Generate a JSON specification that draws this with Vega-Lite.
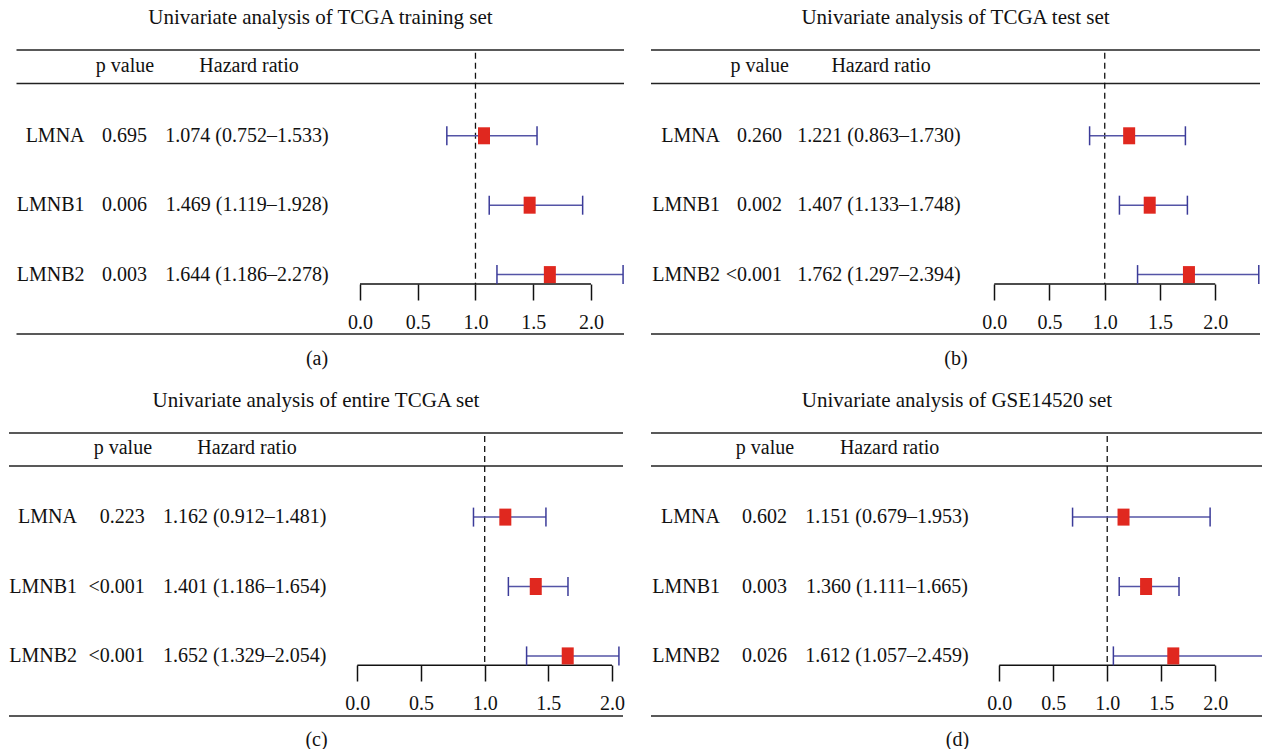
{
  "$schema": "https://vega.github.io/schema/vega-lite/v6.json",
  "background": "white",
  "padding": {"left": 8, "top": 7, "right": 0, "bottom": 0},
  "datasets": {
    "hr": [
      {"panel": "a", "gene": "LMNA", "p": "0.695", "hr": 1.074, "lo": 0.752, "hi": 1.533},
      {"panel": "a", "gene": "LMNB1", "p": "0.006", "hr": 1.469, "lo": 1.119, "hi": 1.928},
      {"panel": "a", "gene": "LMNB2", "p": "0.003", "hr": 1.644, "lo": 1.186, "hi": 2.278},
      {"panel": "b", "gene": "LMNA", "p": "0.260", "hr": 1.221, "lo": 0.863, "hi": 1.730},
      {"panel": "b", "gene": "LMNB1", "p": "0.002", "hr": 1.407, "lo": 1.133, "hi": 1.748},
      {"panel": "b", "gene": "LMNB2", "p": "<0.001", "hr": 1.762, "lo": 1.297, "hi": 2.394},
      {"panel": "c", "gene": "LMNA", "p": "0.223", "hr": 1.162, "lo": 0.912, "hi": 1.481},
      {"panel": "c", "gene": "LMNB1", "p": "<0.001", "hr": 1.401, "lo": 1.186, "hi": 1.654},
      {"panel": "c", "gene": "LMNB2", "p": "<0.001", "hr": 1.652, "lo": 1.329, "hi": 2.054},
      {"panel": "d", "gene": "LMNA", "p": "0.602", "hr": 1.151, "lo": 0.679, "hi": 1.953},
      {"panel": "d", "gene": "LMNB1", "p": "0.003", "hr": 1.360, "lo": 1.111, "hi": 1.665},
      {"panel": "d", "gene": "LMNB2", "p": "0.026", "hr": 1.612, "lo": 1.057, "hi": 2.459}
    ]
  },
  "columns": 2,
  "bounds": "flush",
  "spacing": {"row": 99, "column": 27},
  "concat": [
    {
      "title": {"text": "Univariate analysis of TCGA training set", "dx": 4},
      "width": 615,
      "height": 284,
      "data": {"name": "hr"},
      "transform": [
        {"filter": "datum.panel == 'a'"},
        {"window": [{"op": "row_number", "as": "row"}]},
        {"calculate": "format(datum.hr, '.3f') + ' (' + format(datum.lo, '.3f') + '–' + format(datum.hi, '.3f') + ')'", "as": "hrtext"}
      ],
      "layer": [
        {"data": {"values": [{}]}, "mark": {"type": "rule", "color": "#222", "strokeWidth": 1.5},
         "encoding": {"x": {"datum": -2.974, "type": "quantitative"}, "x2": {"datum": 2.286}, "y": {"datum": -0.236, "type": "quantitative", "axis": null}}},
        {"data": {"values": [{}]}, "mark": {"type": "rule", "color": "#222", "strokeWidth": 1.5},
         "encoding": {"x": {"datum": -2.974, "type": "quantitative"}, "x2": {"datum": 2.286}, "y": {"datum": 0.245, "type": "quantitative", "axis": null}}},
        {"data": {"values": [{}]}, "mark": {"type": "rule", "color": "#222", "strokeWidth": 1.5},
         "encoding": {"x": {"datum": -2.974, "type": "quantitative"}, "x2": {"datum": 2.286}, "y": {"datum": 3.856, "type": "quantitative", "axis": null}}},
        {"data": {"values": [{}]}, "mark": {"type": "rule", "color": "#111", "strokeWidth": 1.3, "strokeDash": [6, 4]},
         "encoding": {"x": {"datum": 1, "type": "quantitative"}, "y": {"datum": -0.197, "type": "quantitative", "axis": null}, "y2": {"datum": 3.135}}},
        {"data": {"values": [{}]}, "mark": {"type": "rule", "color": "#111", "strokeWidth": 1.5},
         "encoding": {"x": {"datum": 0, "type": "quantitative"}, "x2": {"datum": 2}, "y": {"datum": 3.135, "type": "quantitative", "axis": null}}},
        {"mark": {"type": "rule", "color": "#5454a6", "strokeWidth": 1.5},
         "encoding": {
           "x": {"field": "lo", "type": "quantitative", "scale": {"domain": [-3.039, 2.286], "nice": false, "zero": false},
                 "axis": {"values": [0, 0.5, 1, 1.5, 2], "format": ".1f", "offset": -50, "title": "(a)"}},
           "x2": {"field": "hi"},
           "y": {"field": "row", "type": "quantitative", "scale": {"domain": [-0.236, 3.856], "reverse": true, "nice": false, "zero": false}, "axis": null}}},
        {"mark": {"type": "tick", "orient": "vertical", "size": 19, "thickness": 1.5, "color": "#3b3b99", "opacity": 1},
         "encoding": {"x": {"field": "lo", "type": "quantitative"}, "y": {"field": "row", "type": "quantitative", "axis": null}}},
        {"mark": {"type": "tick", "orient": "vertical", "size": 19, "thickness": 1.5, "color": "#3b3b99", "opacity": 1},
         "encoding": {"x": {"field": "hi", "type": "quantitative"}, "y": {"field": "row", "type": "quantitative", "axis": null}}},
        {"mark": {"type": "point", "shape": "M-0.706,-1H0.706V1H-0.706Z", "size": 289, "filled": true, "color": "#e0281f", "opacity": 1},
         "encoding": {"x": {"field": "hr", "type": "quantitative"}, "y": {"field": "row", "type": "quantitative", "axis": null}}},
        {"mark": {"type": "text", "align": "right", "baseline": "middle"},
         "encoding": {"x": {"datum": -2.385, "type": "quantitative"}, "y": {"field": "row", "type": "quantitative", "axis": null}, "text": {"field": "gene"}}},
        {"mark": {"type": "text", "align": "right", "baseline": "middle"},
         "encoding": {"x": {"datum": -1.844, "type": "quantitative"}, "y": {"field": "row", "type": "quantitative", "axis": null}, "text": {"field": "p"}}},
        {"mark": {"type": "text", "align": "center", "baseline": "middle"},
         "encoding": {"x": {"datum": -0.978, "type": "quantitative"}, "y": {"field": "row", "type": "quantitative", "axis": null}, "text": {"field": "hrtext"}}},
        {"data": {"values": [{}]}, "mark": {"type": "text", "align": "center", "baseline": "middle"},
         "encoding": {"x": {"datum": -2.035, "type": "quantitative"}, "y": {"datum": 0, "type": "quantitative", "axis": null}, "text": {"value": "p value"}}},
        {"data": {"values": [{}]}, "mark": {"type": "text", "align": "center", "baseline": "middle"},
         "encoding": {"x": {"datum": -0.961, "type": "quantitative"}, "y": {"datum": 0, "type": "quantitative", "axis": null}, "text": {"value": "Hazard ratio"}}}
      ]
    },
    {
      "title": {"text": "Univariate analysis of TCGA test set"},
      "width": 609,
      "height": 284,
      "data": {"name": "hr"},
      "transform": [
        {"filter": "datum.panel == 'b'"},
        {"window": [{"op": "row_number", "as": "row"}]},
        {"calculate": "format(datum.hr, '.3f') + ' (' + format(datum.lo, '.3f') + '–' + format(datum.hi, '.3f') + ')'", "as": "hrtext"}
      ],
      "layer": [
        {"data": {"values": [{}]}, "mark": {"type": "rule", "color": "#222", "strokeWidth": 1.5},
         "encoding": {"y": {"datum": -0.236, "type": "quantitative", "axis": null}}},
        {"data": {"values": [{}]}, "mark": {"type": "rule", "color": "#222", "strokeWidth": 1.5},
         "encoding": {"y": {"datum": 0.245, "type": "quantitative", "axis": null}}},
        {"data": {"values": [{}]}, "mark": {"type": "rule", "color": "#222", "strokeWidth": 1.5},
         "encoding": {"y": {"datum": 3.856, "type": "quantitative", "axis": null}}},
        {"data": {"values": [{}]}, "mark": {"type": "rule", "color": "#111", "strokeWidth": 1.3, "strokeDash": [6, 4]},
         "encoding": {"x": {"datum": 1, "type": "quantitative"}, "y": {"datum": -0.197, "type": "quantitative", "axis": null}, "y2": {"datum": 3.135}}},
        {"data": {"values": [{}]}, "mark": {"type": "rule", "color": "#111", "strokeWidth": 1.5},
         "encoding": {"x": {"datum": 0, "type": "quantitative"}, "x2": {"datum": 2}, "y": {"datum": 3.135, "type": "quantitative", "axis": null}}},
        {"mark": {"type": "rule", "color": "#5454a6", "strokeWidth": 1.5},
         "encoding": {
           "x": {"field": "lo", "type": "quantitative", "scale": {"domain": [-3.106, 2.405], "nice": false, "zero": false},
                 "axis": {"values": [0, 0.5, 1, 1.5, 2], "format": ".1f", "offset": -50, "title": "(b)"}},
           "x2": {"field": "hi"},
           "y": {"field": "row", "type": "quantitative", "scale": {"domain": [-0.236, 3.856], "reverse": true, "nice": false, "zero": false}, "axis": null}}},
        {"mark": {"type": "tick", "orient": "vertical", "size": 19, "thickness": 1.5, "color": "#3b3b99", "opacity": 1},
         "encoding": {"x": {"field": "lo", "type": "quantitative"}, "y": {"field": "row", "type": "quantitative", "axis": null}}},
        {"mark": {"type": "tick", "orient": "vertical", "size": 19, "thickness": 1.5, "color": "#3b3b99", "opacity": 1},
         "encoding": {"x": {"field": "hi", "type": "quantitative"}, "y": {"field": "row", "type": "quantitative", "axis": null}}},
        {"mark": {"type": "point", "shape": "M-0.706,-1H0.706V1H-0.706Z", "size": 289, "filled": true, "color": "#e0281f", "opacity": 1},
         "encoding": {"x": {"field": "hr", "type": "quantitative"}, "y": {"field": "row", "type": "quantitative", "axis": null}}},
        {"mark": {"type": "text", "align": "right", "baseline": "middle"},
         "encoding": {"x": {"datum": -2.481, "type": "quantitative"}, "y": {"field": "row", "type": "quantitative", "axis": null}, "text": {"field": "gene"}}},
        {"mark": {"type": "text", "align": "right", "baseline": "middle"},
         "encoding": {"x": {"datum": -1.920, "type": "quantitative"}, "y": {"field": "row", "type": "quantitative", "axis": null}, "text": {"field": "p"}}},
        {"mark": {"type": "text", "align": "center", "baseline": "middle"},
         "encoding": {"x": {"datum": -1.043, "type": "quantitative"}, "y": {"field": "row", "type": "quantitative", "axis": null}, "text": {"field": "hrtext"}}},
        {"data": {"values": [{}]}, "mark": {"type": "text", "align": "center", "baseline": "middle"},
         "encoding": {"x": {"datum": -2.123, "type": "quantitative"}, "y": {"datum": 0, "type": "quantitative", "axis": null}, "text": {"value": "p value"}}},
        {"data": {"values": [{}]}, "mark": {"type": "text", "align": "center", "baseline": "middle"},
         "encoding": {"x": {"datum": -1.024, "type": "quantitative"}, "y": {"datum": 0, "type": "quantitative", "axis": null}, "text": {"value": "Hazard ratio"}}}
      ]
    },
    {
      "title": {"text": "Univariate analysis of entire TCGA set"},
      "width": 614,
      "height": 283,
      "data": {"name": "hr"},
      "transform": [
        {"filter": "datum.panel == 'c'"},
        {"window": [{"op": "row_number", "as": "row"}]},
        {"calculate": "format(datum.hr, '.3f') + ' (' + format(datum.lo, '.3f') + '–' + format(datum.hi, '.3f') + ')'", "as": "hrtext"}
      ],
      "layer": [
        {"data": {"values": [{}]}, "mark": {"type": "rule", "color": "#222", "strokeWidth": 1.5},
         "encoding": {"y": {"datum": -0.212, "type": "quantitative", "axis": null}}},
        {"data": {"values": [{}]}, "mark": {"type": "rule", "color": "#222", "strokeWidth": 1.5},
         "encoding": {"y": {"datum": 0.264, "type": "quantitative", "axis": null}}},
        {"data": {"values": [{}]}, "mark": {"type": "rule", "color": "#222", "strokeWidth": 1.5},
         "encoding": {"y": {"datum": 3.866, "type": "quantitative", "axis": null}}},
        {"data": {"values": [{}]}, "mark": {"type": "rule", "color": "#111", "strokeWidth": 1.3, "strokeDash": [6, 4]},
         "encoding": {"x": {"datum": 1, "type": "quantitative"}, "y": {"datum": -0.169, "type": "quantitative", "axis": null}, "y2": {"datum": 3.135}}},
        {"data": {"values": [{}]}, "mark": {"type": "rule", "color": "#111", "strokeWidth": 1.5},
         "encoding": {"x": {"datum": 0, "type": "quantitative"}, "x2": {"datum": 2}, "y": {"datum": 3.135, "type": "quantitative", "axis": null}}},
        {"mark": {"type": "rule", "color": "#5454a6", "strokeWidth": 1.5},
         "encoding": {
           "x": {"field": "lo", "type": "quantitative", "scale": {"domain": [-2.735, 2.086], "nice": false, "zero": false},
                 "axis": {"values": [0, 0.5, 1, 1.5, 2], "format": ".1f", "offset": -51, "title": "(c)"}},
           "x2": {"field": "hi"},
           "y": {"field": "row", "type": "quantitative", "scale": {"domain": [-0.212, 3.866], "reverse": true, "nice": false, "zero": false}, "axis": null}}},
        {"mark": {"type": "tick", "orient": "vertical", "size": 19, "thickness": 1.5, "color": "#3b3b99", "opacity": 1},
         "encoding": {"x": {"field": "lo", "type": "quantitative"}, "y": {"field": "row", "type": "quantitative", "axis": null}}},
        {"mark": {"type": "tick", "orient": "vertical", "size": 19, "thickness": 1.5, "color": "#3b3b99", "opacity": 1},
         "encoding": {"x": {"field": "hi", "type": "quantitative"}, "y": {"field": "row", "type": "quantitative", "axis": null}}},
        {"mark": {"type": "point", "shape": "M-0.706,-1H0.706V1H-0.706Z", "size": 289, "filled": true, "color": "#e0281f", "opacity": 1},
         "encoding": {"x": {"field": "hr", "type": "quantitative"}, "y": {"field": "row", "type": "quantitative", "axis": null}}},
        {"mark": {"type": "text", "align": "right", "baseline": "middle"},
         "encoding": {"x": {"datum": -2.201, "type": "quantitative"}, "y": {"field": "row", "type": "quantitative", "axis": null}, "text": {"field": "gene"}}},
        {"mark": {"type": "text", "align": "right", "baseline": "middle"},
         "encoding": {"x": {"datum": -1.669, "type": "quantitative"}, "y": {"field": "row", "type": "quantitative", "axis": null}, "text": {"field": "p"}}},
        {"mark": {"type": "text", "align": "center", "baseline": "middle"},
         "encoding": {"x": {"datum": -0.884, "type": "quantitative"}, "y": {"field": "row", "type": "quantitative", "axis": null}, "text": {"field": "hrtext"}}},
        {"data": {"values": [{}]}, "mark": {"type": "text", "align": "center", "baseline": "middle"},
         "encoding": {"x": {"datum": -1.841, "type": "quantitative"}, "y": {"datum": 0, "type": "quantitative", "axis": null}, "text": {"value": "p value"}}},
        {"data": {"values": [{}]}, "mark": {"type": "text", "align": "center", "baseline": "middle"},
         "encoding": {"x": {"datum": -0.866, "type": "quantitative"}, "y": {"datum": 0, "type": "quantitative", "axis": null}, "text": {"value": "Hazard ratio"}}}
      ]
    },
    {
      "title": {"text": "Univariate analysis of GSE14520 set"},
      "width": 612,
      "height": 283,
      "data": {"name": "hr"},
      "transform": [
        {"filter": "datum.panel == 'd'"},
        {"window": [{"op": "row_number", "as": "row"}]},
        {"calculate": "format(datum.hr, '.3f') + ' (' + format(datum.lo, '.3f') + '–' + format(datum.hi, '.3f') + ')'", "as": "hrtext"}
      ],
      "layer": [
        {"data": {"values": [{}]}, "mark": {"type": "rule", "color": "#222", "strokeWidth": 1.5},
         "encoding": {"y": {"datum": -0.212, "type": "quantitative", "axis": null}}},
        {"data": {"values": [{}]}, "mark": {"type": "rule", "color": "#222", "strokeWidth": 1.5},
         "encoding": {"y": {"datum": 0.264, "type": "quantitative", "axis": null}}},
        {"data": {"values": [{}]}, "mark": {"type": "rule", "color": "#222", "strokeWidth": 1.5},
         "encoding": {"y": {"datum": 3.866, "type": "quantitative", "axis": null}}},
        {"data": {"values": [{}]}, "mark": {"type": "rule", "color": "#111", "strokeWidth": 1.3, "strokeDash": [6, 4]},
         "encoding": {"x": {"datum": 1, "type": "quantitative"}, "y": {"datum": -0.169, "type": "quantitative", "axis": null}, "y2": {"datum": 3.135}}},
        {"data": {"values": [{}]}, "mark": {"type": "rule", "color": "#111", "strokeWidth": 1.5},
         "encoding": {"x": {"datum": 0, "type": "quantitative"}, "x2": {"datum": 2}, "y": {"datum": 3.135, "type": "quantitative", "axis": null}}},
        {"mark": {"type": "rule", "color": "#5454a6", "strokeWidth": 1.5},
         "encoding": {
           "x": {"field": "lo", "type": "quantitative", "scale": {"domain": [-3.226, 2.443], "nice": false, "zero": false},
                 "axis": {"values": [0, 0.5, 1, 1.5, 2], "format": ".1f", "offset": -51, "title": "(d)"}},
           "x2": {"field": "hi"},
           "y": {"field": "row", "type": "quantitative", "scale": {"domain": [-0.212, 3.866], "reverse": true, "nice": false, "zero": false}, "axis": null}}},
        {"mark": {"type": "tick", "orient": "vertical", "size": 19, "thickness": 1.5, "color": "#3b3b99", "opacity": 1},
         "encoding": {"x": {"field": "lo", "type": "quantitative"}, "y": {"field": "row", "type": "quantitative", "axis": null}}},
        {"mark": {"type": "tick", "orient": "vertical", "size": 19, "thickness": 1.5, "color": "#3b3b99", "opacity": 1},
         "encoding": {"x": {"field": "hi", "type": "quantitative"}, "y": {"field": "row", "type": "quantitative", "axis": null}}},
        {"mark": {"type": "point", "shape": "M-0.706,-1H0.706V1H-0.706Z", "size": 289, "filled": true, "color": "#e0281f", "opacity": 1},
         "encoding": {"x": {"field": "hr", "type": "quantitative"}, "y": {"field": "row", "type": "quantitative", "axis": null}}},
        {"mark": {"type": "text", "align": "right", "baseline": "middle"},
         "encoding": {"x": {"datum": -2.587, "type": "quantitative"}, "y": {"field": "row", "type": "quantitative", "axis": null}, "text": {"field": "gene"}}},
        {"mark": {"type": "text", "align": "right", "baseline": "middle"},
         "encoding": {"x": {"datum": -1.967, "type": "quantitative"}, "y": {"field": "row", "type": "quantitative", "axis": null}, "text": {"field": "p"}}},
        {"mark": {"type": "text", "align": "center", "baseline": "middle"},
         "encoding": {"x": {"datum": -1.040, "type": "quantitative"}, "y": {"field": "row", "type": "quantitative", "axis": null}, "text": {"field": "hrtext"}}},
        {"data": {"values": [{}]}, "mark": {"type": "text", "align": "center", "baseline": "middle"},
         "encoding": {"x": {"datum": -2.170, "type": "quantitative"}, "y": {"datum": 0, "type": "quantitative", "axis": null}, "text": {"value": "p value"}}},
        {"data": {"values": [{}]}, "mark": {"type": "text", "align": "center", "baseline": "middle"},
         "encoding": {"x": {"datum": -1.016, "type": "quantitative"}, "y": {"datum": 0, "type": "quantitative", "axis": null}, "text": {"value": "Hazard ratio"}}}
      ]
    }
  ],
  "config": {
    "font": "Liberation Serif",
    "view": {"stroke": null},
    "title": {"fontSize": 21, "fontWeight": "normal", "font": "Liberation Serif", "color": "#111", "offset": 21, "anchor": "middle"},
    "text": {"fontSize": 20, "font": "Liberation Serif", "color": "#111"},
    "axisX": {"domain": false, "grid": false, "tickSize": 16, "tickWidth": 1.5, "tickColor": "#111", "labelPadding": 12, "labelFontSize": 20, "labelFont": "Liberation Serif", "labelColor": "#111", "labelFlush": false, "labelOverlap": false, "titleFont": "Liberation Serif", "titleFontSize": 20, "titleFontWeight": "normal", "titleColor": "#111", "titlePadding": 16}
  }
}
